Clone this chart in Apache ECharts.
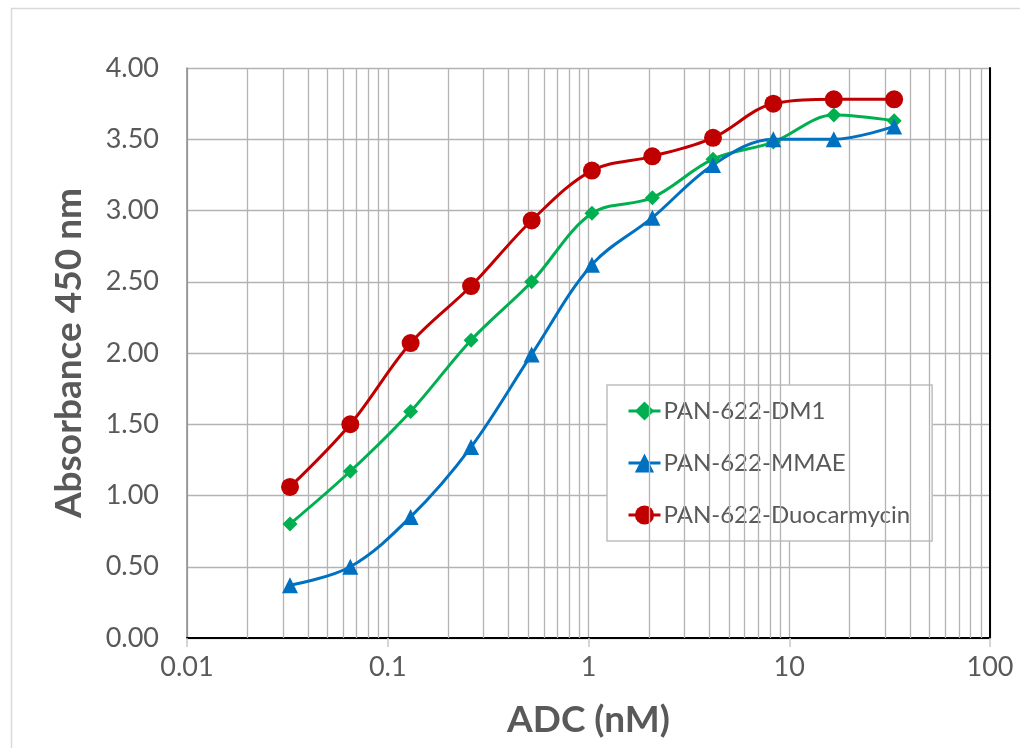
<!DOCTYPE html>
<html>
<head>
<meta charset="utf-8">
<script src="https://cdn.jsdelivr.net/npm/echarts@6/dist/echarts.min.js"></script>
<style>html,body{margin:0;padding:0;background:#fff}#c{width:1020px;height:748px}</style>
</head>
<body>
<div id="c"></div>
<script>
const concentrations = [0.0326, 0.0651, 0.130, 0.260, 0.521, 1.04, 2.08, 4.17, 8.33, 16.67, 33.3];
const dm1 = [0.80, 1.17, 1.59, 2.09, 2.50, 2.98, 3.09, 3.36, 3.48, 3.67, 3.63];
const mmae = [0.37, 0.50, 0.85, 1.34, 1.99, 2.62, 2.95, 3.32, 3.50, 3.50, 3.59];
const duo = [1.06, 1.50, 2.07, 2.47, 2.93, 3.28, 3.38, 3.51, 3.75, 3.78, 3.78];
const seriesNames = ['PAN-622-DM1', 'PAN-622-MMAE', 'PAN-622-Duocarmycin'];
const decades = [0.01, 0.1, 1, 10];
const minorMultipliers = [2, 3, 4, 5, 6, 7, 8, 9];

const minorLines = [];
decades.forEach(d => minorMultipliers.forEach(m => minorLines.push({ xAxis: +(d * m).toPrecision(6) })));

const pair = vals => concentrations.map((c, i) => [c, vals[i]]);
const FONT = 'Lato, "Open Sans", sans-serif';
const TXT = '#595959';
const GRID = '#b3b3b3';

const chart = echarts.init(document.getElementById('c'));
chart.setOption({
  animation: false,
  backgroundColor: '#fff',
  graphic: [{
    type: 'rect', left: 9, top: 6, z: -10,
    shape: { width: 1030, height: 760 },
    style: { fill: 'none', stroke: '#d9d9d9', lineWidth: 1.5 }
  }],
  grid: { left: 187, right: 30, top: 68, bottom: 110 },
  legend: {
    orient: 'vertical', left: 607, top: 385,
    padding: [14, 22, 14, 20], itemGap: 28, itemWidth: 32, itemHeight: 24,
    borderColor: '#bfbfbf', borderWidth: 1.5, backgroundColor: '#fff',
    lineStyle: { width: 3 },
    textStyle: { fontFamily: FONT, fontSize: 24, color: TXT, padding: [0, 0, 0, -2] },
    data: seriesNames
  },
  xAxis: [{
    type: 'log', logBase: 10, min: 0.01, max: 100,
    name: 'ADC (nM)', nameLocation: 'middle', nameGap: 64,
    nameTextStyle: { fontFamily: FONT, fontSize: 37, fontWeight: 'bold', color: TXT },
    axisLine: { lineStyle: { color: '#8c8c8c', width: 1.5 } },
    axisTick: { show: true, length: 9, inside: false, lineStyle: { color: '#c8c8c8', width: 1.5 } },
    axisLabel: { fontFamily: FONT, fontSize: 27, color: TXT, margin: 16,
      formatter: v => String(+(+v).toPrecision(6)) },
    splitLine: { show: true, lineStyle: { color: GRID, width: 1.3 } }
  }, {
    type: 'log', logBase: 10, min: 0.01, max: 100, position: 'top',
    axisLine: { show: true, lineStyle: { color: '#000', width: 2 } },
    axisTick: { show: false }, axisLabel: { show: false }, splitLine: { show: false }
  }],
  yAxis: [{
    type: 'value', min: 0, max: 4, interval: 0.5,
    name: 'Absorbance 450 nm', nameLocation: 'middle', nameGap: 99,
    nameTextStyle: { fontFamily: FONT, fontSize: 37, fontWeight: 'bold', color: TXT },
    axisLine: { show: true, lineStyle: { color: '#8c8c8c', width: 1.5 } },
    axisTick: { show: false },
    axisLabel: { fontFamily: FONT, fontSize: 27, color: TXT, margin: 28,
      formatter: v => v.toFixed(2) },
    splitLine: { show: true, lineStyle: { color: GRID, width: 1.3 } }
  }, {
    type: 'value', min: 0, max: 4, interval: 0.5, position: 'right',
    axisLine: { show: true, lineStyle: { color: '#000', width: 2 } },
    axisTick: { show: false }, axisLabel: { show: false }, splitLine: { show: false }
  }],
  series: [{
    name: '_minor', type: 'line', data: [], silent: true, z: 1,
    markLine: {
      silent: true, symbol: 'none', label: { show: false },
      lineStyle: { color: GRID, width: 1.3, type: 'solid' },
      data: minorLines
    }
  }, {
    name: seriesNames[0], type: 'line', smooth: 0.35, z: 5,
    data: pair(dm1), symbol: 'diamond', symbolSize: 15,
    itemStyle: { color: '#00B050' }, lineStyle: { color: '#00B050', width: 3 }
  }, {
    name: seriesNames[1], type: 'line', smooth: 0.35, z: 5,
    data: pair(mmae), symbol: 'triangle', symbolSize: 16,
    itemStyle: { color: '#0070C0' }, lineStyle: { color: '#0070C0', width: 3 }
  }, {
    name: seriesNames[2], type: 'line', smooth: 0.35, z: 5,
    data: pair(duo), symbol: 'circle', symbolSize: 18,
    itemStyle: { color: '#C00000' }, lineStyle: { color: '#C00000', width: 3 }
  }]
});
</script>
</body>
</html>
